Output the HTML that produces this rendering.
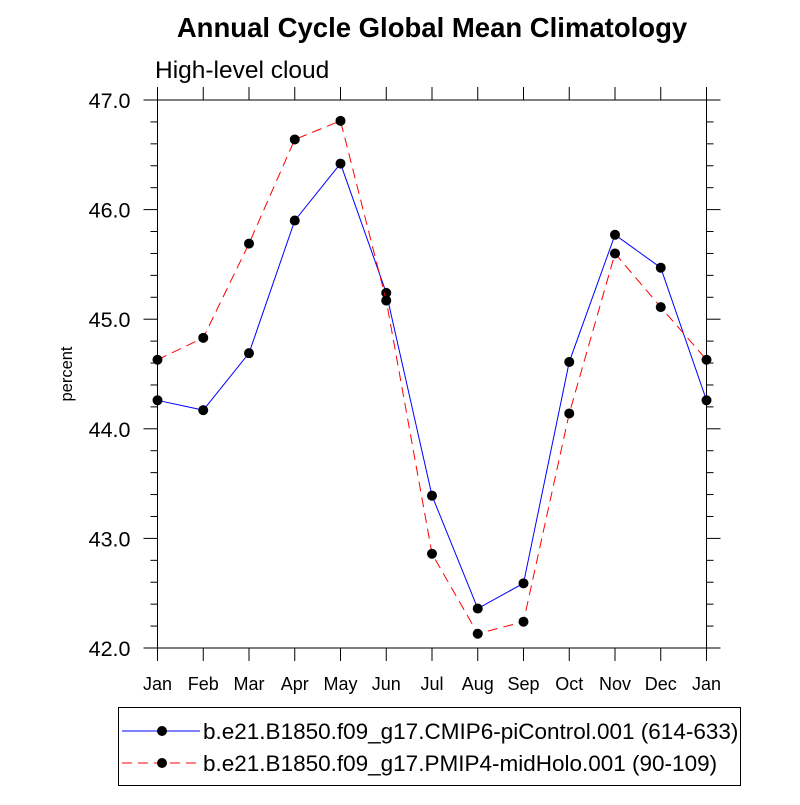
<!DOCTYPE html>
<html><head><meta charset="utf-8"><style>
body{margin:0;background:#fff}
svg{font-family:"Liberation Sans",sans-serif}
</style></head><body>
<svg id="c" width="800" height="800" xmlns="http://www.w3.org/2000/svg">
<text x="432" y="37" font-size="27.5" font-weight="bold" text-anchor="middle">Annual Cycle Global Mean Climatology</text>
<text x="155" y="78" font-size="24.5">High-level cloud</text>
<text transform="translate(72,374) rotate(-90)" font-size="16.5" text-anchor="middle">percent</text>
<g id="ax"></g>
<g id="series"></g>
<g>
<rect x="118.5" y="707.5" width="622" height="78" fill="none" stroke="#000" stroke-width="1"/>
<line x1="122" y1="731" x2="200" y2="731" stroke="#0000ff" stroke-width="1"/>
<circle cx="162" cy="731" r="5" fill="#000"/>
<text x="203" y="739" font-size="22.5">b.e21.B1850.f09_g17.CMIP6-piControl.001 (614-633)</text>
<line x1="122" y1="763" x2="200" y2="763" stroke="#ff0000" stroke-width="1" stroke-dasharray="10,6"/>
<circle cx="162" cy="763" r="5" fill="#000"/>
<text x="203" y="771" font-size="22.5">b.e21.B1850.f09_g17.PMIP4-midHolo.001 (90-109)</text>
</g>
</svg>
<script>
const months=["Jan","Feb","Mar","Apr","May","Jun","Jul","Aug","Sep","Oct","Nov","Dec","Jan"];
const piControl=[44.26,44.17,44.69,45.90,46.42,45.24,43.39,42.36,42.59,44.61,45.77,45.47,44.26];
const midHolo=[44.63,44.83,45.69,46.64,46.81,45.17,42.86,42.13,42.24,44.14,45.60,45.11,44.63];
const yTicks=[42.0,43.0,44.0,45.0,46.0,47.0];
const NS="http://www.w3.org/2000/svg";
const L=157.5,R=706.5,T=100,B=648,ymin=42,ymax=47;
const xs=i=>L+(R-L)*i/(months.length-1);
const ys=v=>B-(v-ymin)/(ymax-ymin)*(B-T);
function mk(t,a,p){const e=document.createElementNS(NS,t);for(const k in a)e.setAttribute(k,a[k]);p.appendChild(e);return e;}
const ax=document.getElementById('ax');
const fr=mk('rect',{x:L,y:T,width:R-L,height:B-T,fill:'none',stroke:'#000','stroke-width':1},ax);


months.forEach((m,i)=>{const x=xs(i);
 mk('line',{x1:x,y1:B,x2:x,y2:B+13,stroke:'#000'},ax);
 mk('line',{x1:x,y1:T,x2:x,y2:T-13,stroke:'#000'},ax);
 const t=mk('text',{x:x,y:B+42,'font-size':18,'text-anchor':'middle'},ax);t.textContent=m;
 
 
});
for(let v=ymin;v<=ymax+1e-6;v+=0.2){const y=ys(v);const maj=Math.abs(v-Math.round(v))<1e-6;const len=maj?14:7;
 mk('line',{x1:L-len,y1:y,x2:L,y2:y,stroke:'#000'},ax);
 mk('line',{x1:R,y1:y,x2:R+len,y2:y,stroke:'#000'},ax);}
yTicks.forEach(v=>{const t=mk('text',{x:L-27,y:ys(v)+8,'font-size':21.5,'text-anchor':'end'},ax);t.textContent=v.toFixed(1);
 
 });
const sg=document.getElementById('series');
function series(vals,col,dash,name){const g=mk('g',{},sg);
 
 
 const a={points:vals.map((v,i)=>xs(i)+','+ys(v)).join(' '),fill:'none',stroke:col,'stroke-width':1};
 if(dash)a['stroke-dasharray']=dash;mk('polyline',a,g);
 vals.forEach((v,i)=>{const c=mk('circle',{cx:xs(i),cy:ys(v),r:5,fill:'#000'},g);
  
  });}
series(piControl,'#0000ff',null,'series-picontrol');
series(midHolo,'#ff0000','10,6','series-midholo');
</script>
</body></html>
